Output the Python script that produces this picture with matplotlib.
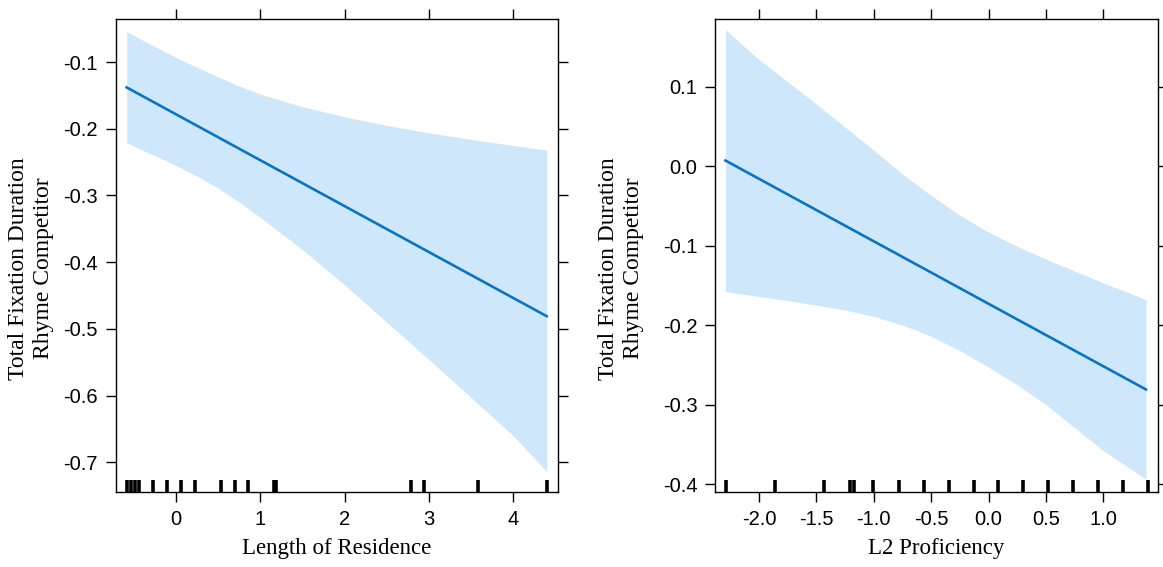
import matplotlib
matplotlib.use("Agg")
import matplotlib.pyplot as plt

plt.rcParams["axes.unicode_minus"] = False

LINE_COLOR = "#0a74c4"
BAND_COLOR = "#cfe7fa"
SERIF = ["Liberation Serif", "DejaVu Serif"]
SANS = ["Liberation Sans", "DejaVu Sans"]

# panel 1: length of residence
res_x = [-0.585, -0.4, -0.2, 0.0, 0.25, 0.5, 0.75, 1.0, 1.5, 2.0, 2.5, 3.0, 3.5, 4.0, 4.397]
res_upper = [-0.054, -0.067, -0.080, -0.093, -0.108, -0.122, -0.136, -0.148, -0.167,
             -0.182, -0.195, -0.206, -0.216, -0.225, -0.232]
res_lower = [-0.221, -0.232, -0.243, -0.255, -0.271, -0.289, -0.310, -0.333, -0.381,
             -0.434, -0.490, -0.546, -0.603, -0.660, -0.714]
res_fit_x = [-0.585, 4.397]
res_fit = [-0.138, -0.481]
res_rug = [-0.585, -0.535, -0.485, -0.44, -0.276, -0.110, 0.056, 0.222, 0.534, 0.696,
           0.858, 1.16, 1.19, 2.788, 2.942, 3.586, 4.397]
res_xticks = [0, 1, 2, 3, 4]
res_xticklabels = ["0", "1", "2", "3", "4"]
res_yticks = [-0.7, -0.6, -0.5, -0.4, -0.3, -0.2, -0.1]

# panel 2: L2 proficiency
prof_x = [-2.293, -2.15, -2.0, -1.75, -1.5, -1.25, -1.0, -0.75, -0.5, -0.25,
          0.0, 0.25, 0.5, 0.75, 1.0, 1.2, 1.372]
prof_upper = [0.172, 0.153, 0.134, 0.106, 0.078, 0.049, 0.020, -0.010, -0.037,
              -0.062, -0.083, -0.101, -0.117, -0.132, -0.147, -0.158, -0.168]
prof_lower = [-0.158, -0.161, -0.164, -0.169, -0.175, -0.181, -0.189, -0.200, -0.214,
              -0.232, -0.253, -0.275, -0.300, -0.329, -0.358, -0.377, -0.394]
prof_fit_x = [-2.293, 1.372]
prof_fit = [0.007, -0.281]
prof_rug = [-2.288, -1.860, -1.430, -1.206, -1.172, -1.003, -0.779, -0.561, -0.343,
            -0.125, 0.081, 0.299, 0.517, 0.738, 0.953, 1.172, 1.390]
prof_xticks = [-2.0, -1.5, -1.0, -0.5, 0.0, 0.5, 1.0]
prof_xticklabels = ["-2.0", "-1.5", "-1.0", "-0.5", "0.0", "0.5", "1.0"]
prof_yticks = [-0.4, -0.3, -0.2, -0.1, 0.0, 0.1]

y_label = "Total Fixation Duration\nRhyme Competitor"


def draw_panel(ax, x, upper, lower, fit_x, fit, rug, xticks, xticklabels, yticks, xlabel):
    ax.fill_between(x, lower, upper, color=BAND_COLOR, linewidth=0)
    ax.plot(fit_x, fit, color=LINE_COLOR, linewidth=1.9)
    ax.vlines(rug, 0, 0.026, transform=ax.get_xaxis_transform(), color="black", linewidth=2.6)

    ax.set_xticks(xticks)
    ax.set_xticklabels(xticklabels)
    ax.set_yticks(yticks)
    ax.set_yticklabels([f"{v:.1f}" for v in yticks])
    ax.tick_params(direction="out", length=7, width=1, top=True, right=True,
                   labeltop=False, labelright=False, labelsize=14.5, pad=6)
    for lab in ax.get_xticklabels() + ax.get_yticklabels():
        lab.set_family(SANS)
    for s in ax.spines.values():
        s.set_linewidth(1)
    ax.set_xlabel(xlabel, family=SERIF, fontsize=16.5, labelpad=6)


fig = plt.figure(figsize=(11.63, 5.67), dpi=100)

ax1 = fig.add_axes([0.0995, 0.1317, 0.3801, 0.8347])
draw_panel(ax1, res_x, res_upper, res_lower, res_fit_x, res_fit, res_rug,
           res_xticks, res_xticklabels, res_yticks, "Length of Residence")
ax1.set_xlim(-0.715, 4.528)
ax1.set_ylim(-0.745, -0.0355)

ax2 = fig.add_axes([0.6152, 0.1317, 0.3802, 0.8347])
draw_panel(ax2, prof_x, prof_upper, prof_lower, prof_fit_x, prof_fit, prof_rug,
           prof_xticks, prof_xticklabels, prof_yticks, "L2 Proficiency")
ax2.set_xlim(-2.380, 1.474)
ax2.set_ylim(-0.4104, 0.185)

fig.text(31 / 1163, 0.527, y_label, rotation=90, ha="center", va="center",
         family=SERIF, fontsize=17, multialignment="center")
fig.text(621 / 1163, 0.527, y_label, rotation=90, ha="center", va="center",
         family=SERIF, fontsize=17, multialignment="center")

fig.savefig("out.png", dpi=100)
